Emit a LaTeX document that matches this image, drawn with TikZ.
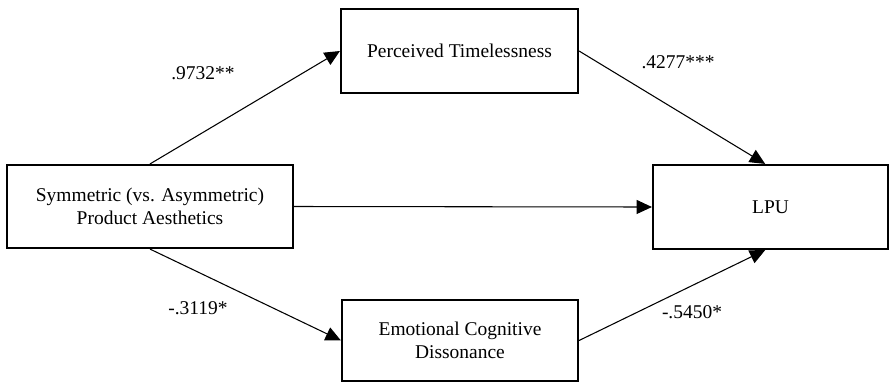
\documentclass[tikz,border=0pt]{standalone}
\usepackage{fontspec}
\setmainfont{Liberation Serif}
\usetikzlibrary{arrows.meta}
\tikzstyle{var} = [rectangle,
text centered,
align=center,
draw=black,
line width=1.6pt,
font=\fontsize{14.6}{17}\selectfont]
\tikzstyle{coef} = [font=\fontsize{14.6}{17}\selectfont]
\tikzstyle{arrow} = [line width=0.8pt, -{Triangle[length=11.5pt, width=10.5pt]}]

\begin{document}
\begin{tikzpicture}[x=0.75pt, y=-0.75pt]
			\useasboundingbox (0,0) rectangle (889,383);
			\node (sym) [var, minimum width=214.5pt, minimum height=62.25pt] at (150,206.5) {Symmetric (vs. Asymmetric)\\Product Aesthetics};
			\node (time) [var, minimum width=177.75pt, minimum height=63pt] at (459.5,51) {Perceived Timelessness};
			\node (lpu) [var, minimum width=176.25pt, minimum height=63pt] at (770.5,207) {LPU};
			\node (emo) [var, minimum width=177pt, minimum height=60.75pt] at (460,340.5) {Emotional Cognitive\\Dissonance};

			\node (a) [coef] at (203,73) {.9732**};
			\node (b) [coef] at (678,62) {.4277***};
			\node (c) [coef] at (198,308) {-.3119*};
			\node (d) [coef] at (692,312) {-.5450*};

			\draw[arrow] (sym.north) -- (time.west);
			\draw[arrow] (time.east) -- ([xshift=-4pt]lpu.north);
			\draw[arrow] (sym.east) -- (lpu.west);
			\draw[arrow] (sym.south) -- (emo.west);
			\draw[arrow] (emo.east) -- ([xshift=-4pt]lpu.south);
		\end{tikzpicture}
\end{document}
